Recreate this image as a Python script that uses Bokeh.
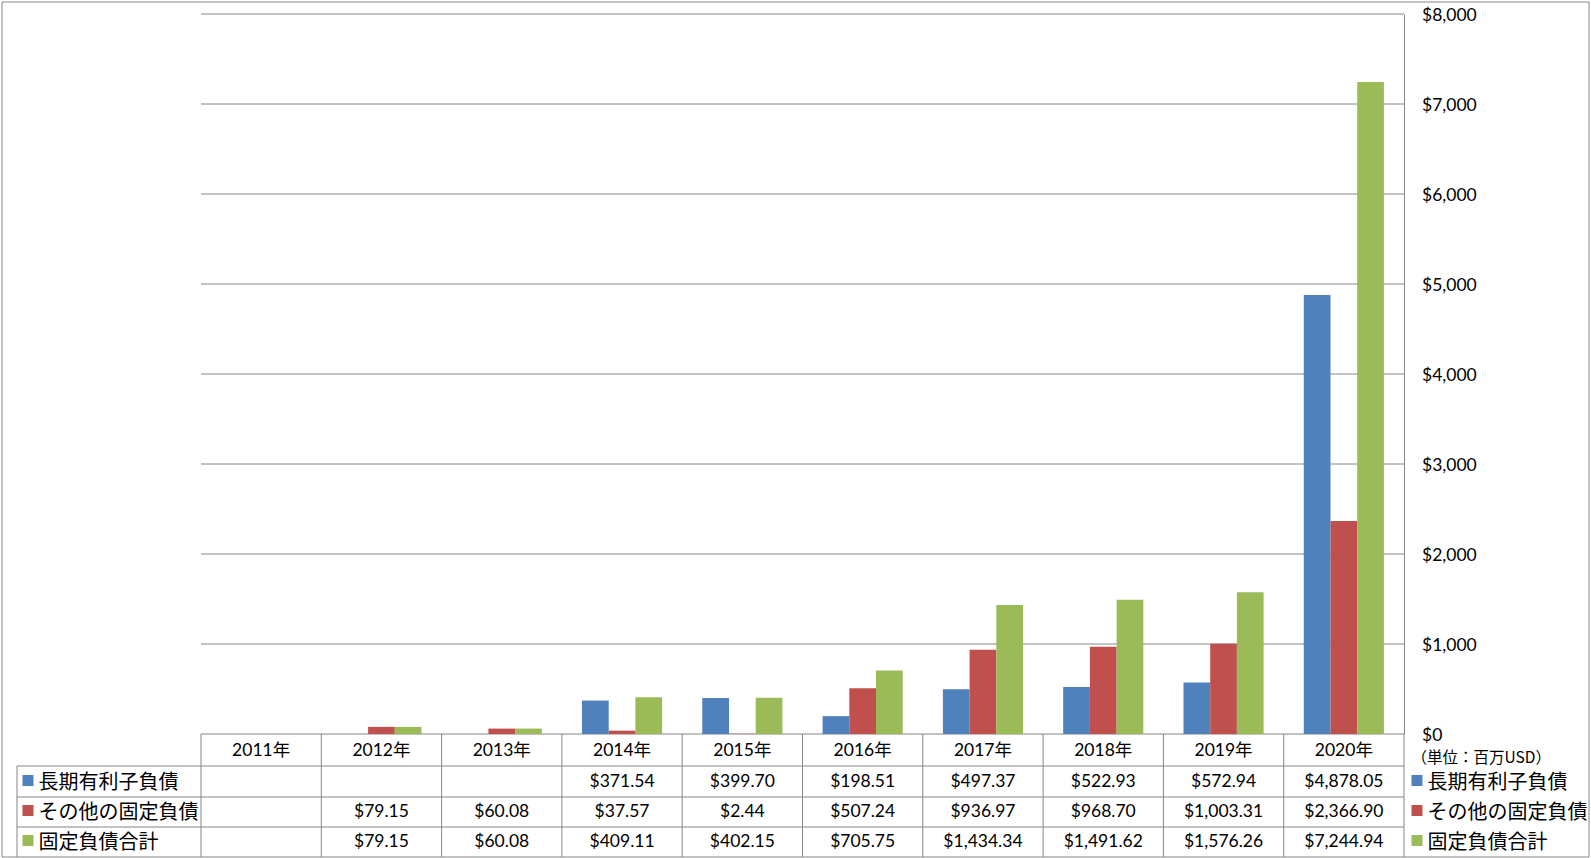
import numpy as np
from bokeh.plotting import figure
from bokeh.models import Range1d, LinearAxis, FixedTicker, NumeralTickFormatter, ColumnDataSource
from bokeh.core.properties import value
from bokeh.embed import file_html
from bokeh.resources import INLINE

# ---------------- data ----------------
years = ["2011年", "2012年", "2013年", "2014年", "2015年",
         "2016年", "2017年", "2018年", "2019年", "2020年"]
series_names = ["長期有利子負債", "その他の固定負債", "固定負債合計"]
long_term_debt = [np.nan, np.nan, np.nan, 371.54, 399.70, 198.51, 497.37, 522.93, 572.94, 4878.05]
other_fixed = [np.nan, 79.15, 60.08, 37.57, 2.44, 507.24, 936.97, 968.70, 1003.31, 2366.90]
total_fixed = [np.nan, 79.15, 60.08, 409.11, 402.15, 705.75, 1434.34, 1491.62, 1576.26, 7244.94]
y_ticks = [0, 1000, 2000, 3000, 4000, 5000, 6000, 7000, 8000]
unit_note = "（単位：百万USD）"

# ---------------- style / layout ----------------
colors = ["#4F81BD", "#C0504D", "#9BBB59"]
LINE = "#868686"
W, H = 1591, 858
PX_L, PX_R = 200.5, 1403.5     # plot area (pixels)
PX_T, PX_B = 13.5, 733.5
n = len(years)
ymax = y_ticks[-1]
cat_px = (PX_R - PX_L) / n
val_px = (PX_B - PX_T) / ymax

NUM_FONT = value("Lato")
JP_FONT = value("Noto Sans CJK JP")
MIX_FONT = value("Lato, Noto Sans CJK JP")

p = figure(width=W, height=H,
           x_range=Range1d(-PX_L / cat_px, (W - PX_L) / cat_px),
           y_range=Range1d(-(H - PX_B) / val_px, ymax + PX_T / val_px),
           output_backend="svg", toolbar_location=None, tools="",
           x_axis_location=None, y_axis_location=None, title=None,
           min_border=0, outline_line_color=None,
           background_fill_color="white", border_fill_color="white")
p.grid.visible = False
p.xgrid.visible = False
p.ygrid.visible = False
p.extra_x_ranges = {"px": Range1d(0, W)}
p.extra_y_ranges = {"px": Range1d(H, 0)}

# gridlines
p.segment(x0=0, x1=n, y0=y_ticks, y1=y_ticks, line_color=LINE, line_width=1)

# bars
centers = np.arange(n) + 0.5
bw = 0.222
offsets = [-bw, 0.0, bw]
all_series = [long_term_debt, other_fixed, total_fixed]
for vals, off, c in zip(all_series, offsets, colors):
    src = ColumnDataSource(dict(x=centers + off, top=np.array(vals, dtype=float)))
    p.vbar(x="x", top="top", bottom=0, width=bw, source=src,
           fill_color=c, line_color=None)

# right value axis
ax = LinearAxis(fixed_location=n, bounds=(0, ymax),
                ticker=FixedTicker(ticks=y_ticks),
                formatter=NumeralTickFormatter(format="$0,0"),
                axis_line_color=LINE, axis_line_width=1,
                major_tick_line_color=None, minor_tick_line_color=None,
                major_tick_in=0, major_tick_out=0,
                major_label_standoff=18,
                major_label_text_font="Lato",
                major_label_text_font_size="17.5px",
                major_label_text_color="black")
p.add_layout(ax, "right")

# ---------------- data table ----------------
ROW_EDGES = [733.5, 765.5, 796.5, 826.5, 856.5]
HEADER_Y = 749
ROW_Y = [780, 810, 840]
LABEL_COL_X = 16.5

# horizontal table lines
p.segment(x0=LABEL_COL_X, x1=PX_R, y0=ROW_EDGES[1:4], y1=ROW_EDGES[1:4],
          x_range_name="px", y_range_name="px", line_color=LINE)
# vertical lines at category boundaries
bounds_x = np.arange(n + 1)
p.segment(x0=bounds_x, x1=bounds_x, y0=ROW_EDGES[0], y1=ROW_EDGES[-1],
          y_range_name="px", line_color=LINE)
# left edge of row-label column
p.segment(x0=LABEL_COL_X, x1=LABEL_COL_X, y0=ROW_EDGES[1], y1=ROW_EDGES[-1],
          x_range_name="px", y_range_name="px", line_color=LINE)
# outer chart border
p.quad(left=1.5, right=1588.5, top=1.5, bottom=856.5, x_range_name="px",
       y_range_name="px", fill_color=None, line_color=LINE, line_width=1)

# header
p.text(x=centers, y=HEADER_Y, text=years, y_range_name="px",
       text_font=MIX_FONT, text_font_size="17.5px", text_color="black",
       text_align="center", text_baseline="middle")

# values
for vals, ry in zip(all_series, ROW_Y):
    xs = [c for c, v in zip(centers, vals) if not np.isnan(v)]
    ts = [f"${v:,.2f}" for v in vals if not np.isnan(v)]
    p.text(x=xs, y=ry, text=ts, y_range_name="px",
           text_font=NUM_FONT, text_font_size="17.5px", text_color="black",
           text_align="center", text_baseline="middle")

# row labels with colour keys (left) and legend (right)
for key_x, txt_x in [(27.5, 38), (1416.5, 1427)]:
    p.scatter(x=[key_x] * 3, y=ROW_Y, marker="square", size=11,
              fill_color=colors, line_color=None,
              x_range_name="px", y_range_name="px")
    p.text(x=[txt_x] * 3, y=ROW_Y, text=series_names,
           x_range_name="px", y_range_name="px",
           text_font=JP_FONT, text_font_size="20px", text_color="black",
           text_align="left", text_baseline="middle")

# unit note
p.text(x=[1411], y=[755], text=[unit_note], x_range_name="px", y_range_name="px",
       text_font=JP_FONT, text_font_size="15.5px", text_color="black",
       text_align="left", text_baseline="middle")

open("out.html", "w").write(file_html(p, INLINE))
